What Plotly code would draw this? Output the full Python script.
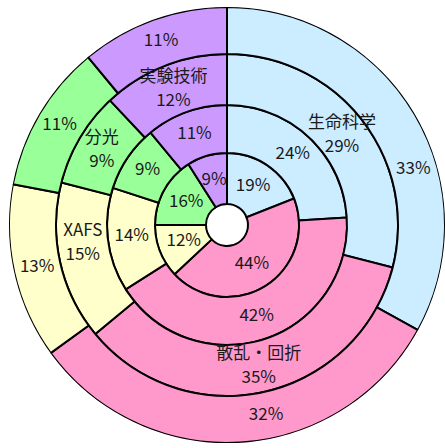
import math
import plotly.graph_objects as go

# ---- data (clockwise from 12 o'clock, innermost ring first) ----
categories = ["生命科学", "散乱・回折", "XAFS", "分光", "実験技術"]
ring1 = [19, 44, 12, 16, 9]
ring2 = [24, 42, 14, 9, 11]
ring3 = [29, 35, 15, 9, 12]
ring4 = [33, 32, 13, 11, 11]
rings = [ring1, ring2, ring3, ring4]

# ---- style ----
colors = ["#CCECFF", "#FF99CC", "#FFFFCC", "#99FF99", "#CC99FF"]
radii = [21, 72, 120, 171, 218]          # ring boundaries (pixel-like units)
name_ring = 2                             # ring index that carries category names
line_gap = 12                             # half vertical gap between name / value lines
# manual label nudges (degrees) as in the reference
nudge = {(3, 0): 14, (3, 1): -8, (2, 2): 5}
font = dict(family="Noto Sans CJK JP, Noto Sans, sans-serif", size=17, color="#1a1a1a")


def shift_vertical(r, theta_deg, dy):
    """move a polar point (clockwise from top) vertically by dy (up positive)."""
    a = math.radians(theta_deg)
    x, y = r * math.sin(a), r * math.cos(a) + dy
    return math.hypot(x, y), math.degrees(math.atan2(x, y))


fig = go.Figure()
txt_r, txt_t, txt_s = [], [], []
for k, vals in enumerate(rings):
    total = sum(vals)
    starts, cum = [], 0
    for v in vals:
        starts.append(cum)
        cum += v
    widths = [v / total * 360 for v in vals]
    mids = [(s + v / 2) / total * 360 for s, v in zip(starts, vals)]
    fig.add_trace(go.Barpolar(
        r=[radii[k + 1] - radii[k]] * len(vals),
        base=[radii[k]] * len(vals),
        theta=mids,
        width=widths,
        marker=dict(color=colors, line=dict(color="black", width=2)),
        hoverinfo="skip",
        showlegend=False,
    ))
    for i, v in enumerate(vals):
        rr = (radii[k] + radii[k + 1]) / 2
        tt = mids[i] + nudge.get((k, i), 0)
        if k == name_ring:
            r1, t1 = shift_vertical(rr, tt, line_gap)
            r2, t2 = shift_vertical(rr, tt, -line_gap)
            txt_r += [r1, r2]; txt_t += [t1, t2]; txt_s += [categories[i], f"{v}%"]
        else:
            txt_r.append(rr); txt_t.append(tt); txt_s.append(f"{v}%")

fig.add_trace(go.Scatterpolar(
    r=txt_r, theta=txt_t, text=txt_s, mode="text", textposition="middle center",
    textfont=font, hoverinfo="skip", showlegend=False,
))

fig.update_layout(
    width=445, height=448,
    margin=dict(l=0, r=0, t=0, b=0),
    paper_bgcolor="white",
    polar=dict(
        domain=dict(x=[9 / 445, 1], y=[0, 1 - 2 / 448]),
        bgcolor="white",
        bargap=0,
        angularaxis=dict(direction="clockwise", rotation=90, showgrid=False,
                         showline=False, showticklabels=False, ticks=""),
        radialaxis=dict(visible=False, range=[0, radii[-1]], showgrid=False),
    ),
)

fig.write_html("out.html")
